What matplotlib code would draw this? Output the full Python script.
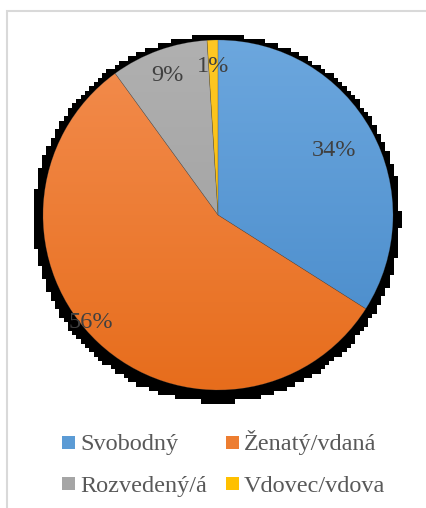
import numpy as np
import matplotlib
matplotlib.use("Agg")
import matplotlib.pyplot as plt
from matplotlib.colors import LinearSegmentedColormap, ListedColormap
from matplotlib.patches import Rectangle

# ---- data ----
categories = ["Svobodný", "Ženatý/vdaná", "Rozvedený/á", "Vdovec/vdova"]
values = [34, 56, 9, 1]
labels = ["34%", "56%", "9%", "1%"]

# ---- styles ----
grad_top = ["#6ca7de", "#f38d4f", "#b0b0b0", "#ffc825"]
grad_bot = ["#4689c9", "#e76d1c", "#9c9c9c", "#f5b800"]
legend_cols = ["#5b9bd5", "#ed7d31", "#a5a5a5", "#ffc000"]
label_dist = [0.76, 0.95, 0.85, 0.85]
label_shift = [0, -6.5, 0, 0]

W, H = 426, 508
fig = plt.figure(figsize=(W / 100, H / 100), dpi=100)
fig.patch.set_facecolor("white")

# frame (only left and top edges visible)
fig.add_artist(Rectangle((6.5 / W, -0.05), 1.0, 1.05 - 11 / H, transform=fig.transFigure,
                         fill=False, edgecolor="#d9d9d9", linewidth=1.5))

R = 175.0
cx, cy = 218.0, 215.0
lim = 1.1
side = 2 * lim * R
ax = fig.add_axes([(cx - side / 2) / W, ((H - cy) - side / 2) / H, side / W, side / H])
ax.set_axis_off()

# pixelated shadow
n = 90
xs = np.linspace(-lim, lim, n)
X, Y = np.meshgrid(xs, xs)
mask = ((X + 0.006) ** 2 + (Y + 0.022) ** 2) < 1.058 ** 2
shadow = np.where(mask, 1.0, np.nan)
ax.imshow(shadow, extent=(-lim, lim, -lim, lim), origin="lower",
          cmap=ListedColormap(["black"]), interpolation="nearest", zorder=0)

wedges, _ = ax.pie(values, startangle=90, counterclock=False, radius=1,
                   wedgeprops=dict(linewidth=0))
grad = np.linspace(0, 1, 256).reshape(-1, 1)
for w, ct, cb in zip(wedges, grad_top, grad_bot):
    cmap = LinearSegmentedColormap.from_list("g", [cb, ct])
    im = ax.imshow(grad, extent=(-1, 1, -1, 1), origin="lower", cmap=cmap,
                   aspect="auto", zorder=2, interpolation="bilinear")
    im.set_clip_path(w)
    w.set_facecolor("none")
    w.set_edgecolor((0.3, 0.3, 0.3, 0.35))
    w.set_linewidth(0.4)
    w.set_zorder(3)

for w, lab, d, s in zip(wedges, labels, label_dist, label_shift):
    ang = np.deg2rad((w.theta1 + w.theta2) / 2 + s)
    ax.text(d * np.cos(ang), d * np.sin(ang), lab, ha="center", va="center",
            fontsize=17.5, family="Liberation Serif", color="#404040", zorder=5)

ax.set_xlim(-lim, lim)
ax.set_ylim(-lim, lim)
ax.set_aspect("equal")

# legend
col_x = [62, 226]
sq_top = [436, 477]
baseline = [450, 492]
for i, (cat, col) in enumerate(zip(categories, legend_cols)):
    x0 = col_x[i % 2]
    r = i // 2
    fig.add_artist(Rectangle((x0 / W, 1 - (sq_top[r] + 13) / H), 13 / W, 13 / H,
                             transform=fig.transFigure, facecolor=col, edgecolor="none"))
    fig.text((x0 + 18) / W, 1 - baseline[r] / H, cat, ha="left", va="baseline",
             fontsize=17.5, family="Liberation Serif", color="#595959")

fig.savefig("out.png", dpi=100)
